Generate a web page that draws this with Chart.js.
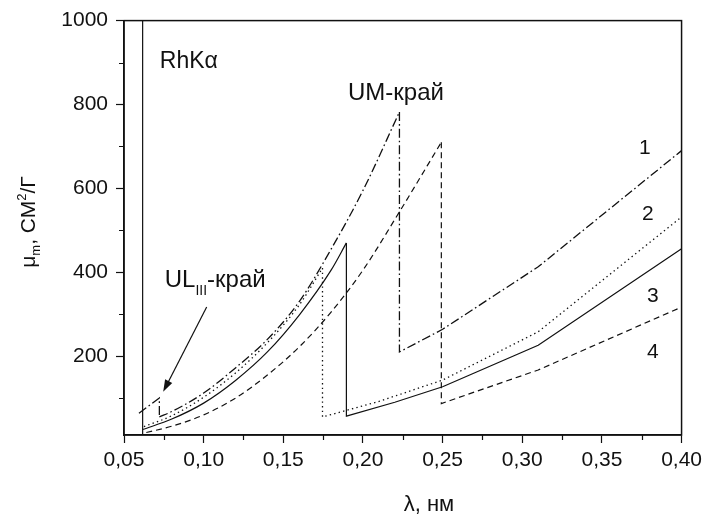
<!DOCTYPE html>
<html><head><meta charset="utf-8">
<script src="https://cdn.jsdelivr.net/npm/chart.js@4.4.1/dist/chart.umd.min.js"></script>
<style>html,body{margin:0;padding:0;background:#fff}</style>
</head><body>
<canvas id="c" width="707" height="514"></canvas>
<script>
// ---- data ----
const xMajorTicks = [0.05, 0.10, 0.15, 0.20, 0.25, 0.30, 0.35, 0.40];
const xMinorTicks = [0.075, 0.125, 0.175, 0.225, 0.275, 0.325, 0.375];
const yMajorTicks = [200, 400, 600, 800, 1000];
const yMinorTicks = [100, 300, 500, 700, 900];

const rhLambda = [0.0617, 0.0617];
const rhMu     = [12, 1000];

// curve 1 (dash-dot): below UL_III edge, between edges, above UM edge
const c1PreLambda  = [0.0594, 0.0722];
const c1PreMu      = [64, 100];
const c1RiseLambda = [0.0722, 0.08, 0.10, 0.12, 0.14, 0.16, 0.18, 0.20, 0.2229];
const c1RiseMu     = [55, 68, 112, 172, 240, 330, 455, 595, 782];
const c1PostLambda = [0.2229, 0.25, 0.31, 0.40];
const c1PostMu     = [210, 264, 413, 690];
// curve 2 (dotted)
const c2RiseLambda = [0.0625, 0.08, 0.10, 0.12, 0.14, 0.16, 0.1746];
const c2RiseMu     = [32, 58, 102, 160, 232, 322, 410];
const c2PostLambda = [0.1746, 0.21, 0.25, 0.31, 0.40];
const c2PostMu     = [55, 92, 143, 258, 532];
// curve 3 (solid)
const c3RiseLambda = [0.0617, 0.08, 0.10, 0.12, 0.14, 0.16, 0.18, 0.1896];
const c3RiseMu     = [25, 50, 88, 142, 210, 298, 405, 470];
const c3PostLambda = [0.1896, 0.22, 0.25, 0.31, 0.40];
const c3PostMu     = [57, 90, 127, 226, 456];
// curve 4 (dashed)
const c4RiseLambda = [0.0640, 0.08, 0.10, 0.12, 0.14, 0.16, 0.18, 0.20, 0.2229, 0.2492];
const c4RiseMu     = [18, 33, 60, 100, 155, 222, 305, 405, 544, 710];
const c4PostLambda = [0.2492, 0.31, 0.40];
const c4PostMu     = [87, 167, 317];

const FF = "'Liberation Sans', Arial, sans-serif";
const INK = '#111111';

const pts = (xs, ys) => xs.map((v, i) => ({x: v, y: ys[i]}));
const last = (xs, ys) => ({x: xs[xs.length - 1], y: ys[ys.length - 1]});
const first = (xs, ys) => ({x: xs[0], y: ys[0]});
const ds = (data, dash, w, smooth) => ({
  data, borderColor: INK, borderWidth: w, borderDash: dash,
  showLine: true, pointRadius: 0, tension: 0, fill: false,
  cubicInterpolationMode: smooth ? 'monotone' : 'default'
});

const DASHDOT = [9, 3, 1.6, 3], DOT = [1.4, 3.2], DASH = [6, 4];

function richText(ctx, segs, x, y, size, align) {
  let w = 0;
  segs.forEach(s => { ctx.font = (size * s[1]) + 'px ' + FF; w += ctx.measureText(s[0]).width; });
  let cx = align === 'center' ? x - w / 2 : x;
  segs.forEach(s => {
    ctx.font = (size * s[1]) + 'px ' + FF;
    ctx.fillText(s[0], cx, y + s[2] * size);
    cx += ctx.measureText(s[0]).width;
  });
}

const overlay = {
  id: 'overlay',
  beforeDraw(chart) {
    const ctx = chart.ctx;
    ctx.save(); ctx.fillStyle = '#fff'; ctx.fillRect(0, 0, chart.width, chart.height); ctx.restore();
  },
  afterDatasetsDraw(chart) {
    const {ctx, chartArea: a, scales: {x, y}} = chart;
    ctx.save();
    ctx.strokeStyle = INK; ctx.fillStyle = INK;
    ctx.lineWidth = 1.5;
    ctx.strokeRect(a.left, a.top, a.right - a.left, a.bottom - a.top);
    ctx.lineWidth = 1.2;
    ctx.beginPath();
    xMinorTicks.forEach(v => { const p = Math.round(x.getPixelForValue(v)) + 0.5; ctx.moveTo(p, a.bottom); ctx.lineTo(p, a.bottom + 5); });
    yMinorTicks.forEach(v => { const p = Math.round(y.getPixelForValue(v)) + 0.5; ctx.moveTo(a.left, p); ctx.lineTo(a.left - 5, p); });
    ctx.stroke();

    ctx.textBaseline = 'alphabetic';
    ctx.textAlign = 'left';
    const X = v => x.getPixelForValue(v), Y = v => y.getPixelForValue(v);
    richText(ctx, [['RhK', 1, 0], ['α', 1, 0]], X(0.0725), Y(886), 23, 'left');
    richText(ctx, [['UM-край', 1, 0]], X(0.1906), Y(810), 24, 'left');
    richText(ctx, [['UL', 1, 0], ['III', 0.58, 0.3], ['-край', 1, 0]], X(0.0756), Y(364), 24, 'left');
    richText(ctx, [['1', 1, 0]], X(0.3769), Y(683), 21, 'center');
    richText(ctx, [['2', 1, 0]], X(0.3788), Y(524), 21, 'center');
    richText(ctx, [['3', 1, 0]], X(0.3819), Y(329), 21, 'center');
    richText(ctx, [['4', 1, 0]], X(0.3819), Y(195), 21, 'center');

    const x1 = X(0.1019), y1 = Y(317), x2 = X(0.0746), y2 = Y(115);
    const ang = Math.atan2(y2 - y1, x2 - x1), L = 12, H = 4;
    ctx.lineWidth = 1.2;
    ctx.beginPath(); ctx.moveTo(x1, y1);
    ctx.lineTo(x2 - (L - 2) * Math.cos(ang), y2 - (L - 2) * Math.sin(ang)); ctx.stroke();
    ctx.beginPath();
    ctx.moveTo(x2, y2);
    ctx.lineTo(x2 - L * Math.cos(ang) + H * Math.sin(ang), y2 - L * Math.sin(ang) - H * Math.cos(ang));
    ctx.lineTo(x2 - L * Math.cos(ang) - H * Math.sin(ang), y2 - L * Math.sin(ang) + H * Math.cos(ang));
    ctx.closePath(); ctx.fill();

    richText(ctx, [['λ, нм', 1, 0]], 429, 511, 22, 'center');
    ctx.save();
    ctx.translate(35, 222);
    ctx.rotate(-Math.PI / 2);
    richText(ctx, [['μ', 1, 0], ['m', 0.62, 0.25], [', СМ', 1, 0], ['2', 0.62, -0.42], ['/Г', 1, 0]], 0, 0, 21, 'center');
    ctx.restore();
    ctx.restore();
  }
};

new Chart(document.getElementById('c'), {
  type: 'scatter',
  data: {
    datasets: [
      ds(pts(rhLambda, rhMu), [], 1.2, false),
      ds([...pts(c1PreLambda, c1PreMu), first(c1RiseLambda, c1RiseMu)], DASHDOT, 1.3, false),
      ds(pts(c1RiseLambda, c1RiseMu), DASHDOT, 1.3, true),
      ds([last(c1RiseLambda, c1RiseMu), ...pts(c1PostLambda, c1PostMu)], DASHDOT, 1.3, false),
      ds(pts(c2RiseLambda, c2RiseMu), DOT, 1.3, true),
      ds([last(c2RiseLambda, c2RiseMu), ...pts(c2PostLambda, c2PostMu)], DOT, 1.3, false),
      ds(pts(c3RiseLambda, c3RiseMu), [], 1.2, true),
      ds([last(c3RiseLambda, c3RiseMu), ...pts(c3PostLambda, c3PostMu)], [], 1.2, false),
      ds(pts(c4RiseLambda, c4RiseMu), DASH, 1.2, true),
      ds([last(c4RiseLambda, c4RiseMu), ...pts(c4PostLambda, c4PostMu)], DASH, 1.2, false)
    ]
  },
  options: {
    responsive: false,
    animation: false,
    events: [],
    layout: {padding: {left: 0, top: 20, right: 23, bottom: 0}},
    plugins: {legend: {display: false}, tooltip: {enabled: false}, title: {display: false}},
    scales: {
      x: {
        type: 'linear', min: 0.05, max: 0.40,
        afterFit: s => { s.height = 79; },
        afterBuildTicks: s => { s.ticks = xMajorTicks.map(v => ({value: v})); },
        ticks: {
          autoSkip: false, maxRotation: 0, padding: 5, color: INK,
          font: {family: FF, size: 21},
          callback: v => v.toFixed(2).replace('.', ',')
        },
        grid: {display: true, drawOnChartArea: false, drawTicks: true, tickLength: 8, tickColor: INK, tickWidth: 1.2},
        border: {display: true, color: INK, width: 1.5}
      },
      y: {
        type: 'linear', min: 12, max: 1000,
        afterFit: s => { s.width = 124; },
        afterBuildTicks: s => { s.ticks = yMajorTicks.map(v => ({value: v})); },
        ticks: {
          autoSkip: false, padding: 8, color: INK,
          font: {family: FF, size: 21},
          callback: v => String(v)
        },
        grid: {display: true, drawOnChartArea: false, drawTicks: true, tickLength: 8, tickColor: INK, tickWidth: 1.2},
        border: {display: true, color: INK, width: 1.5}
      }
    }
  },
  plugins: [overlay]
});
</script>
</body></html>
